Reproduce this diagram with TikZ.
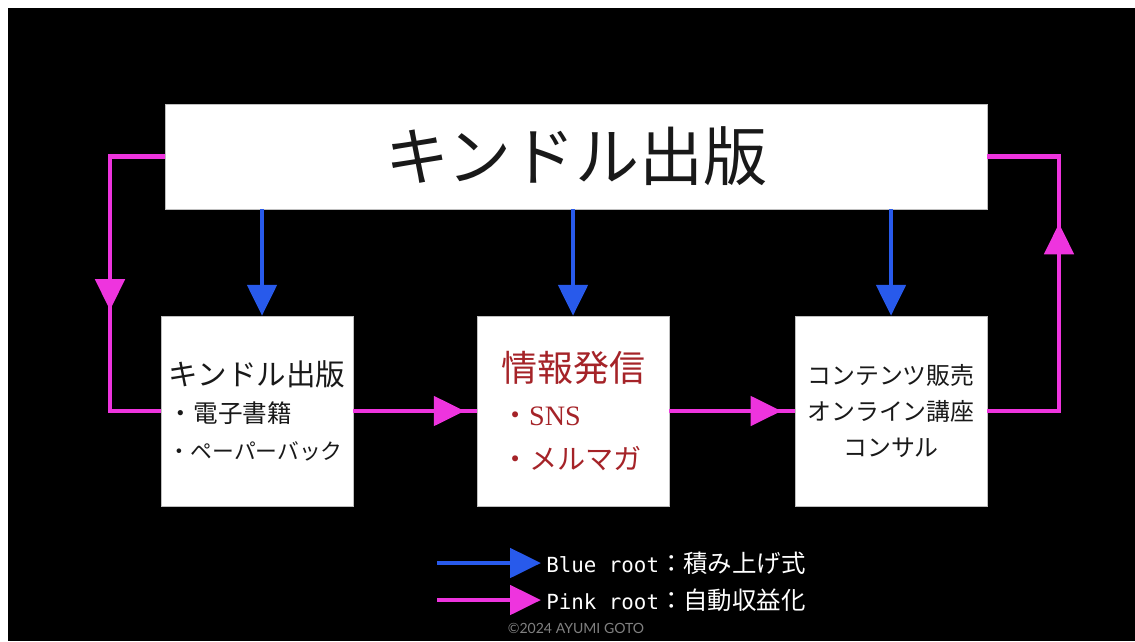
\documentclass[tikz,border=0pt]{standalone}
\usepackage{fontspec}
\setmainfont{Noto Sans CJK JP}
\setmonofont{DejaVu Sans Mono}
\newfontfamily\snsfont{Liberation Serif}
\newfontfamily\copyfont{Lato}
\usetikzlibrary{arrows.meta}
\definecolor{rootblue}{RGB}{40,90,235}
\definecolor{rootpink}{RGB}{238,52,222}
\definecolor{infored}{RGB}{165,35,40}
\definecolor{boxtext}{RGB}{25,25,25}

\begin{document}
\begin{tikzpicture}[x=0.025cm, y=-0.025cm,
    box/.style={fill=white, draw=gray!50, line width=0.3pt, text=boxtext, inner sep=0pt},
    stage box/.style={box, minimum width=4.8cm, minimum height=4.75cm},
    blue root/.style={draw=rootblue, line width=3.5pt},
    pink root/.style={draw=rootpink, line width=3.5pt},
    root tip/.style={-{Triangle[width=20.6pt, length=22pt]}}]
  \useasboundingbox (0,0) rectangle (1135,641);
  \fill[white] (0,0) rectangle (1135,641);
  \fill[black] (8,8) rectangle (1135,641);

  \node[box, minimum width=20.55cm, minimum height=2.625cm,
    font=\fontsize{45.5}{50}\selectfont] (kindle) at (576,156.5) {キンドル出版};

  \node[stage box, align=left, font=\fontsize{17.5}{26.5}\selectfont] (pub) at (257,411)
    {{\fontsize{21}{27}\selectfont キンドル出版}\\
     ・電子書籍\\
     {\fontsize{15.5}{25.5}\selectfont ・ペーパーバック}};
  \node[stage box, align=left, text=infored, font=\fontsize{20}{31.5}\selectfont] (info) at (573,411)
    {{\fontsize{25.6}{31}\selectfont 情報発信}\\
     ・{\snsfont SNS}\\
     ・メルマガ};
  \node[stage box, align=center, font=\fontsize{17}{25.5}\selectfont] (sales) at (891,411)
    {コンテンツ販売\\オンライン講座\\コンサル};

  \draw[blue root, root tip] (kindle.south -| 262,0) -- (pub.north -| 262,0);
  \draw[blue root, root tip] (kindle.south -| info.north) -- (info.north);
  \draw[blue root, root tip] (kindle.south -| sales.north) -- (sales.north);

  \coordinate (lbend) at (110,411);
  \coordinate (rbend) at (1059,411);
  \draw[pink root] (kindle.west) -| (lbend) -- (pub.west);
  \draw[pink root, root tip, shorten >=2.52cm] (kindle.west -| lbend) -- (lbend);
  \draw[pink root] (pub.east) -- (info.west);
  \draw[pink root, root tip, shorten >=0.3cm] (pub.east) -- (info.west);
  \draw[pink root] (info.east) -- (sales.west);
  \draw[pink root, root tip, shorten >=0.33cm] (info.east) -- (sales.west);
  \draw[pink root] (sales.east) -- (rbend) |- (kindle.east);
  \draw[pink root, root tip, shorten >=1.67cm] (rbend) -- (kindle.east -| rbend);

  \coordinate (bluestart) at (437,563);
  \coordinate (blueend) at (541,563);
  \coordinate (pinkstart) at (437,600);
  \coordinate (pinkend) at (541,600);
  \draw[blue root, root tip] (bluestart) -- (blueend);
  \draw[pink root, root tip] (pinkstart) -- (pinkend);
  \node[anchor=west, text=white, inner sep=0pt] (bluelabel) at (546,563)
    {{\ttfamily\fontsize{14.8}{18}\selectfont Blue root}{\fontsize{17.4}{20}\selectfont ：積み上げ式}};
  \node[anchor=west, text=white, inner sep=0pt] (pinklabel) at (546,600)
    {{\ttfamily\fontsize{14.8}{18}\selectfont Pink root}{\fontsize{17.4}{20}\selectfont ：自動収益化}};
  \node[text=gray, inner sep=0pt, font=\copyfont\fontsize{10}{12}\selectfont] (credit) at (576,628)
    {©2024 AYUMI GOTO};
\end{tikzpicture}
\end{document}
